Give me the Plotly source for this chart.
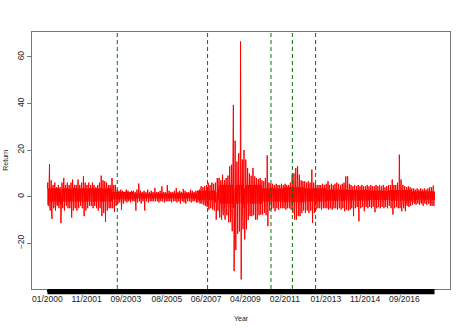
import pandas as pd
import plotly.graph_objects as go

# monthly extremes of the daily return series, 01/2000 .. 01/2018
months = pd.date_range("2000-01-01", "2018-01-01", freq="MS")

ret_high = [
    6, 14, 7, 5, 6, 4, 5, 4, 6, 8, 5, 6,                    # 2000
    5, 6, 7.3, 5, 5, 7.3, 5, 6, 8.7, 6, 5, 6,               # 2001
    5, 6, 5, 4, 5, 6, 9, 7, 6.6, 6, 5, 5,                   # 2002
    8, 5, 5, 3, 2.5, 3, 2.5, 2, 3, 2.5, 2, 2.5,             # 2003
    2.5, 2, 3, 5.6, 2.5, 2, 2.5, 2, 3, 2, 2.5, 2,           # 2004
    3.7, 2, 2, 2.5, 4.4, 2, 2, 4.9, 2.5, 2, 2, 2.5,         # 2005
    3.7, 2, 2.5, 2, 3.3, 2.5, 2, 2, 3, 2.5, 2, 2.5,         # 2006
    2.5, 3, 4.4, 4, 4.5, 5, 5.9, 5, 6, 5.5, 6, 8,           # 2007
    8, 7, 9.4, 7, 8, 9, 13, 13.7, 39.4, 24, 15, 18.7,       # 2008
    66.6, 15.9, 20, 15.9, 12.3, 10, 9, 12.3, 8.7, 8, 7.5, 8,  # 2009
    7, 6.6, 8, 17.7, 6, 5.5, 5.5, 5, 5.5, 5, 5, 5.5,        # 2010
    5, 5.5, 5, 5, 6, 9.4, 10, 12.3, 13, 9.4, 7, 6.6,        # 2011
    6.6, 6, 6.6, 6, 11.6, 6, 5.5, 5, 5, 5, 5.5, 5,          # 2012
    5.5, 6.6, 5, 5.5, 5, 5.5, 6, 5.5, 5, 5.5, 6, 8.7,       # 2013
    8.7, 5.5, 5, 4.4, 5, 4.5, 5, 4.4, 5, 4.5, 4.4, 5,       # 2014
    4.4, 5, 4.5, 4.4, 5, 4.5, 5, 4.4, 5, 4, 4.5, 5,         # 2015
    5, 7.3, 5, 5, 6, 18, 7.3, 5, 4.5, 4, 4.4, 4,            # 2016
    3.5, 3.5, 3, 3.5, 3, 3.5, 3, 3.5, 3, 3.5, 4, 4,         # 2017
    4.7,                                                    # 2018
]

ret_low = [
    -4, -6, -9.6, -5, -6, -4, -5, -11.4, -5, -6, -4, -5,
    -5, -9, -6, -5, -6, -5, -4, -5, -8.4, -6, -5, -4,
    -4, -5, -4, -5, -6, -5, -8.4, -7, -10.9, -6, -5, -5,
    -5, -6.6, -4, -3, -2.5, -5.6, -3, -2, -2.5, -2, -2.5, -2,
    -2, -6, -2.5, -2, -3, -2, -6, -2, -2.5, -2, -2, -2,
    -2, -2, -2.5, -2, -2, -2.5, -2, -2, -2, -2.5, -2, -2,
    -2.5, -2, -3, -2, -2.5, -3, -2, -2, -2.5, -2, -2, -2.5,
    -2.5, -3, -3, -3.5, -4, -4.5, -5.6, -5, -5.6, -6, -9.9, -6,
    -9, -9.9, -8, -9.9, -8, -11, -11, -14.9, -32, -23, -16, -15,
    -35.6, -14, -18.4, -14.1, -10, -8.4, -8.4, -8, -9.9, -9.9, -8, -7.7,
    -7.7, -7, -8, -12.7, -6, -5.6, -5, -6.3, -5, -5.6, -5, -5,
    -5, -5.6, -5, -5, -5.6, -7, -9.9, -9.9, -8.4, -8.4, -7, -6,
    -7, -6, -7, -6, -11.3, -7, -5.6, -5, -5, -5.6, -5, -5,
    -5, -5.6, -5, -5.6, -5, -5, -5.6, -5, -5.6, -5, -6.3, -5.6,
    -6, -5.6, -5, -8.4, -5, -4.5, -10.6, -5, -4.4, -6.3, -4.5, -5,
    -4.5, -5, -4.4, -6.7, -5, -4.5, -5, -4.4, -5, -4.5, -5, -4,
    -5, -7.7, -5, -4.5, -5, -5, -6.3, -5, -6.3, -4, -4.5, -4,
    -3.5, -3, -3.5, -3, -3.5, -3, -4, -3, -3.5, -3, -4, -4,
    -4,
]

# typical (dense core) amplitude of the daily moves, per year 2000..2018
band_years = list(range(2000, 2019))
band_amp = [3.5, 3.5, 3.5, 2.0, 1.3, 1.3, 1.4, 2.5, 5.0, 5.0,
            3.5, 4.0, 3.5, 3.0, 2.8, 2.5, 2.8, 2.2, 2.2]

tick_dates = ["2000-01-01", "2001-11-01", "2003-09-01", "2005-08-01", "2007-06-01",
              "2009-04-01", "2011-02-01", "2013-01-01", "2014-11-01", "2016-09-01"]
tick_labels = ["01/2000", "11/2001", "09/2003", "08/2005", "06/2007",
               "04/2009", "02/2011", "01/2013", "11/2014", "09/2016"]

event_dates = ["2003-04-07", "2007-06-25", "2010-06-10", "2011-06-10", "2012-07-10"]

band = dict(zip(band_years, band_amp))

# back-and-forth path inside each month so it reads like daily noise
xs, ys = [], []
for m, hi, lo in zip(months, ret_high, ret_low):
    b = band[m.year]
    for day, v in [(2, b), (6, hi), (9, -b), (12, b * 0.7), (15, -b * 0.8),
                   (18, lo), (21, b), (24, -b * 0.6), (27, b * 0.9)]:
        xs.append(m + pd.Timedelta(days=day))
        ys.append(v)

fig = go.Figure()
fig.add_trace(go.Scatter(x=xs, y=ys, mode="lines",
                         line=dict(color="#ff0000", width=1), hoverinfo="skip"))

for d in event_dates:
    fig.add_vline(x=pd.Timestamp(d).timestamp() * 1000,
                  line=dict(color="#0a700a", width=1, dash="4px,3px"))

# R style 4% padding around the data
x0, x1 = min(xs), max(xs)
pad = (x1 - x0) * 0.04
y0, y1 = min(ret_low), max(ret_high)
ypad = (y1 - y0) * 0.04

# the solid black strip of per-observation tick marks under the plot
fig.add_shape(type="rect", xref="x domain", yref="paper",
              x0=0.04 / 1.08, x1=1.04 / 1.08, y0=-0.02, y1=0,
              fillcolor="black", line=dict(width=0), layer="above")

fig.update_layout(
    width=467, height=331,
    margin=dict(l=32, r=17, t=32, b=42),
    paper_bgcolor="white", plot_bgcolor="white",
    showlegend=False,
    font=dict(family="Liberation Sans, Arial, sans-serif", color="#222", size=8.5),
    xaxis=dict(range=[x0 - pad, x1 + pad], tickvals=tick_dates, ticktext=tick_labels,
               showgrid=False, zeroline=False, showline=True, linecolor="#777",
               mirror=True, ticks="outside", ticklen=2, tickcolor="black",
               tickfont=dict(size=8.5)),
    yaxis=dict(range=[y0 - ypad, y1 + ypad], tickvals=[-20, 0, 20, 40, 60],
               showgrid=False, zeroline=False, showline=True, linecolor="#777",
               mirror=True, ticks="outside", ticklen=4, tickcolor="#777",
               tickangle=-90, tickfont=dict(size=8.5)),
    annotations=[
        dict(text="Return", xref="paper", yref="paper", x=-0.064, y=0.5,
             xanchor="center", yanchor="middle",
             textangle=-90, showarrow=False, font=dict(size=7)),
        dict(text="Year", xref="paper", yref="paper", x=0.5, y=-0.113,
             xanchor="center", yanchor="middle",
             showarrow=False, font=dict(size=7)),
    ],
)

fig.write_html("out.html", config={"displayModeBar": False},
               post_script="document.body.style.margin='0px';")
